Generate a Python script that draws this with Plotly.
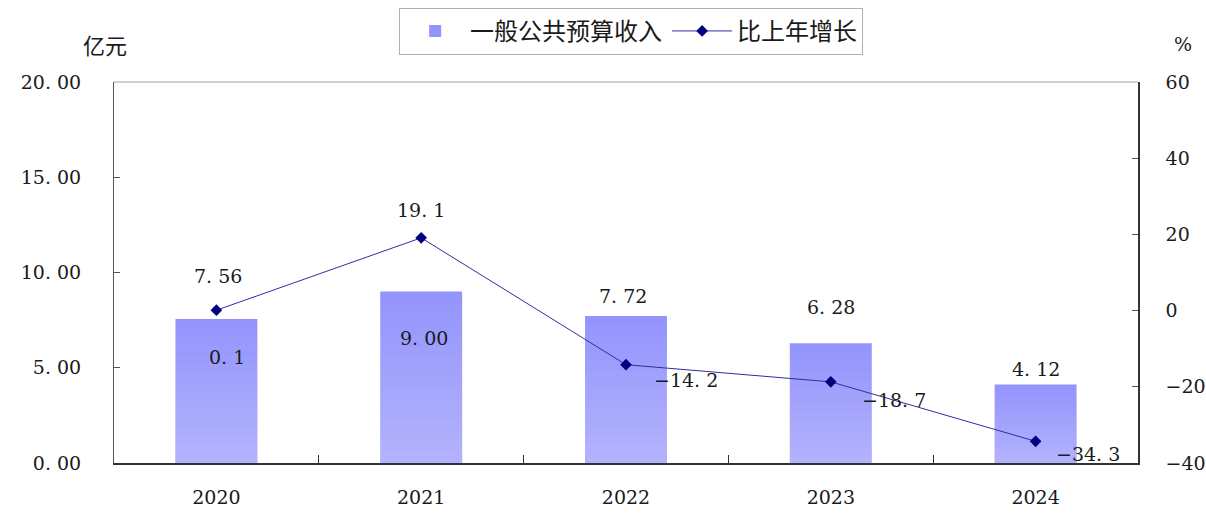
import plotly.graph_objects as go

years = ["2020", "2021", "2022", "2023", "2024"]
revenue = [7.56, 9.00, 7.72, 6.28, 4.12]          # 亿元
growth = [0.1, 19.1, -14.2, -18.7, -34.3]          # %
left_ticks = [0, 5, 10, 15, 20]
right_ticks = [-40, -20, 0, 20, 40, 60]

NUM_FONT = "DejaVu Serif"
CJK_FONT = "Noto Sans CJK SC"
TXT = "#1a1a1a"
NS = 19
BAR_TOP = "#9494fd"
N_BANDS = 16
BAND_ALPHA = 1 - 0.62 ** (1 / N_BANDS)


def fmt(v, d, minus="\u2212"):
    s = f"{v:.{d}f}".replace(".", ". ")
    return s.replace("-", minus)


fig = go.Figure()
fig.add_trace(go.Bar(
    x=years, y=revenue, name="一般公共预算收入",
    marker=dict(color=BAR_TOP, line=dict(width=0)),
    width=0.4, yaxis="y",
))
# vertical gradient: lighter towards the bottom of each bar
for k in range(1, N_BANDS):
    frac = 1 - k / N_BANDS
    fig.add_trace(go.Bar(
        x=years, y=[v * frac for v in revenue], showlegend=False, hoverinfo="skip",
        marker=dict(color=f"rgba(255,255,255,{BAND_ALPHA:.4f})", line=dict(width=0)),
        width=0.4, yaxis="y",
    ))
fig.add_trace(go.Scatter(
    x=years, y=growth, name="比上年增长", yaxis="y2",
    mode="lines+markers",
    line=dict(color="#2e2e9e", width=1),
    marker=dict(symbol="diamond", size=9, color="#000080"),
))

# data labels (positions relative to each value)
bar_shift = [(2, 43), (3, -46), (-3, 20), (0, 36), (0, 16)]
for i, (v, (dx, dy)) in enumerate(zip(revenue, bar_shift)):
    fig.add_annotation(x=i, xref="x", y=v, yref="y", text=fmt(v, 2), showarrow=False,
                       xshift=dx, yshift=dy,
                       font=dict(family=NUM_FONT, size=NS, color=TXT))
line_shift = [(11, -47), (0, 28), (60, -15), (63, -18), (52, -13)]
for i, (v, (dx, dy)) in enumerate(zip(growth, line_shift)):
    fig.add_annotation(x=i, xref="x", y=v, yref="y2", text=fmt(v, 1), showarrow=False,
                       xshift=dx, yshift=dy,
                       font=dict(family=NUM_FONT, size=NS, color=TXT))

# axis unit titles
fig.add_annotation(x=-0.009, y=1.10, xref="paper", yref="paper", text="亿元",
                   xanchor="center", yanchor="middle",
                   showarrow=False, font=dict(family=CJK_FONT, size=22, color=TXT))
fig.add_annotation(x=1.044, y=1.10, xref="paper", yref="paper", text="%",
                   xanchor="center", yanchor="middle",
                   showarrow=False, font=dict(family=NUM_FONT, size=NS, color=TXT))

# top frame line
fig.add_shape(type="line", xref="paper", yref="paper", x0=0, x1=1, y0=1, y1=1,
              line=dict(color="#a0a0a0", width=1))

fig.update_layout(
    width=1206, height=516,
    margin=dict(l=114, r=68, t=82, b=53, autoexpand=False),
    paper_bgcolor="white", plot_bgcolor="white",
    barmode="overlay",
    showlegend=True,
    legend=dict(orientation="h", x=0.505, xanchor="center", y=1.133, yanchor="middle",
                bordercolor="#b0b0b0", borderwidth=1, bgcolor="white",
                itemwidth=60,
                font=dict(family=CJK_FONT, size=24, color=TXT)),
    xaxis=dict(type="category", range=[-0.5, 4.5], showline=True, linecolor="#333",
               linewidth=1.5, ticks="inside", tickson="boundaries", ticklen=8,
               tickcolor="#333", tickangle=0,
               tickfont=dict(family=NUM_FONT, size=NS, color=TXT),
               ticklabelstandoff=16, showgrid=False, zeroline=False),
    yaxis=dict(range=[0, 20], tickvals=left_ticks,
               ticktext=[fmt(t, 2) for t in left_ticks],
               showline=True, linecolor="#555", linewidth=1,
               ticks="inside", ticklen=6, tickcolor="#555",
               tickfont=dict(family=NUM_FONT, size=NS, color=TXT),
               ticklabelstandoff=28, showgrid=False, zeroline=False),
    yaxis2=dict(range=[-40, 60], tickvals=right_ticks,
                ticktext=[fmt(t, 0) for t in right_ticks],
                overlaying="y", side="right",
                showline=True, linecolor="#333", linewidth=1.5,
                ticks="inside", ticklen=6, tickcolor="#555",
                tickfont=dict(family=NUM_FONT, size=NS, color=TXT),
                ticklabelstandoff=22, showgrid=False, zeroline=False),
)

fig.write_html("out.html",
               config={"displayModeBar": False},
               post_script="document.body.style.margin='0';document.body.style.overflow='hidden';")
